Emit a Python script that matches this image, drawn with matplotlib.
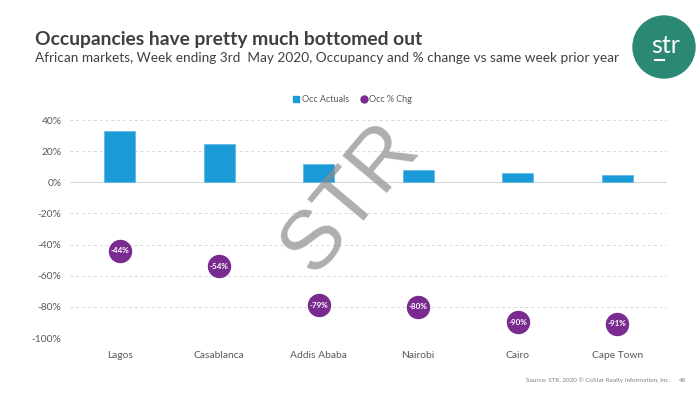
import matplotlib
matplotlib.use("Agg")
import matplotlib.pyplot as plt
from matplotlib.patches import Circle
from matplotlib.lines import Line2D
import numpy as np

categories = ["Lagos", "Casablanca", "Addis Ababa", "Nairobi", "Cairo", "Cape Town"]
occ_actuals = [33, 24.5, 11.8, 8.2, 5.8, 4.6]
occ_pct_chg = [-44, -54, -79, -80, -90, -91]
yticks = [40, 20, 0, -20, -40, -60, -80, -100]

BLUE = "#1a9bd7"
PURPLE = "#7a2b8f"
TEAL = "#2b8873"
TXT = "#404040"
TICK = "#595959"

plt.rcParams['font.family'] = ['Lato', 'DejaVu Sans']

fig = plt.figure(figsize=(7, 3.94), dpi=100)
W, H = 700, 394
ax = fig.add_axes([70 / W, 1 - 338 / H, 597 / W, 218 / H])

x = np.arange(len(categories))
ax.bar(x, occ_actuals, width=0.31, color=BLUE, edgecolor="#5fb9e6", linewidth=0.6, zorder=3)
ax.scatter(x, occ_pct_chg, s=(22 * 0.72) ** 2, color=PURPLE, zorder=4)
for xi, v in zip(x, occ_pct_chg):
    ax.text(xi, v, f"{v}%", ha="center", va="center", color="white",
            fontsize=5.8, fontweight="bold", zorder=5)

ax.set_xlim(-0.5, len(categories) - 0.5)
ax.set_ylim(-100, 40)
ax.set_yticks(yticks)
ax.set_yticklabels([f"{t}%" for t in yticks])
ax.set_xticks(x)
ax.set_xticklabels(categories)
for t in yticks:
    if t == 0:
        ax.axhline(t, color="#d9d9d9", lw=0.8, zorder=1)
    else:
        ax.axhline(t, color="#d9d9d9", lw=0.7, ls=(0, (3, 3)), zorder=1)
for s in ax.spines.values():
    s.set_visible(False)
ax.tick_params(axis="both", length=0, colors=TICK, labelsize=7.4)
ax.tick_params(axis="x", pad=9)
ax.tick_params(axis="y", pad=6)

# watermark
fig.text(350 / W, 1 - 198 / H, "STR", rotation=50, fontsize=60, color="#8c8c8c", alpha=0.7,
         ha="center", va="center", family=["Liberation Sans", "DejaVu Sans"], zorder=10)

# legend
handles = [Line2D([], [], marker="s", ls="", color=BLUE, markersize=5),
           Line2D([], [], marker="o", ls="", color=PURPLE, markersize=5)]
fig.legend(handles, ["Occ Actuals", "Occ % Chg"], loc="center", bbox_to_anchor=(352 / W, 1 - 100 / H),
           ncol=2, frameon=False, fontsize=6.5, handletextpad=0.1, columnspacing=1.2,
           labelcolor=TICK, handlelength=1.0)

# title
fig.text(35 / W, 1 - 39 / H, "Occupancies have pretty much bottomed out", fontsize=13.9,
         fontweight="bold", color=TXT, ha="left", va="center")
fig.text(35 / W, 1 - 58 / H, "African markets, Week ending 3rd  May 2020, Occupancy and % change vs same week prior year",
         fontsize=9.85, color=TXT, ha="left", va="center")

# logo
logo_ax = fig.add_axes([0, 0, 1, 1], zorder=-1)
logo_ax.set_xlim(0, W)
logo_ax.set_ylim(H, 0)
logo_ax.axis("off")
logo_ax.add_patch(Circle((664, 47), 31, color=TEAL))
logo_ax.text(666, 45, "str", color="white", fontsize=18, ha="center", va="center")
logo_ax.plot([655, 664], [60, 60], color="white", lw=1.5)

# source
fig.text(670 / W, 1 - 380 / H, "Source: STR. 2020 \u00a9 CoStar Realty Information, Inc.", fontsize=4.5,
         color="#7f7f7f", ha="right", va="center")
fig.text(683 / W, 1 - 380 / H, "48", fontsize=4.5, color="#7f7f7f", ha="center", va="center")

fig.savefig("out.png", dpi=100)
